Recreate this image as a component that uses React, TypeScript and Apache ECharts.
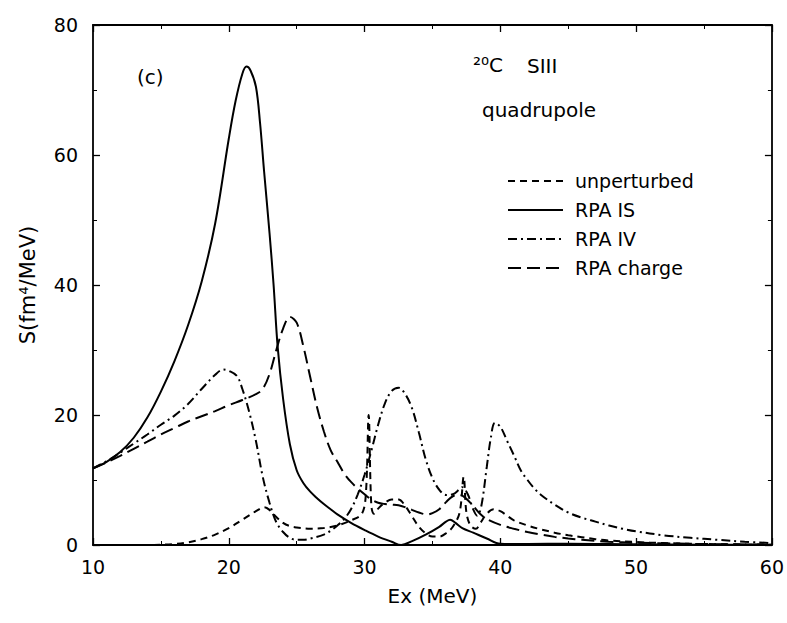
import React, { useEffect, useRef } from "react";
import * as echarts from "echarts";

// Series values: [Ex (MeV), S (fm^4/MeV)]
const unperturbed: [number, number][] = [
  [10, 0], [14, 0], [15, 0.05], [16, 0.15], [17, 0.4], [18, 0.9], [19, 1.6], [20, 2.6],
  [21, 3.9], [22, 5.2], [22.6, 5.8], [23, 5.4], [23.5, 4.3], [24, 3.4], [24.5, 2.9],
  [25, 2.7], [26, 2.5], [27, 2.6], [28, 3], [29, 3.8], [29.8, 4.8], [30.1, 8], [30.3, 20],
  [30.5, 6], [30.7, 4.8], [31, 5.6], [31.5, 6.5], [32, 7], [32.5, 7], [33, 6], [33.5, 4.4],
  [34, 2.8], [34.5, 1.8], [35, 1.3], [35.5, 1.3], [36, 1.8], [36.5, 2.8], [37, 5],
  [37.3, 10.5], [37.5, 5], [37.8, 3], [38.2, 2.5], [38.5, 3.3], [39, 4.8], [39.5, 5.5],
  [40, 5.2], [40.5, 4.5], [41, 3.8], [42, 3], [43, 2.4], [44, 1.9], [45, 1.5], [46, 1.2],
  [47, 0.9], [48, 0.7], [50, 0.45], [52, 0.3], [55, 0.15], [60, 0.05],
];

const rpaIS: [number, number][] = [
  [10, 11.8], [11, 12.8], [12, 14.3], [13, 16.5], [14, 19.6], [15, 23.6], [16, 28.3],
  [17, 33.8], [18, 40.5], [19, 49.5], [20, 62.5], [20.5, 68.3], [21, 72.5], [21.3, 73.6],
  [21.6, 73], [22, 70.5], [22.3, 65], [22.6, 57.5], [23, 48], [23.3, 40], [23.6, 30.5],
  [24, 22.5], [24.5, 15.5], [25, 11.5], [25.5, 9.5], [26, 8.2], [26.5, 7.2], [27, 6.3],
  [27.5, 5.5], [28, 4.7], [29, 3.4], [30, 2.3], [31, 1.3], [32, 0.5], [32.7, 0],
  [33.5, 0.6], [34.5, 1.6], [35.5, 2.8], [36, 3.6], [36.3, 3.9], [36.7, 3.4], [37.2, 2.6],
  [38, 1.9], [39, 1.0], [40, 0.2], [42, 0.15], [45, 0.2], [50, 0.1], [55, 0.05], [60, 0.02],
];

const rpaIV: [number, number][] = [
  [10, 11.8], [11, 12.9], [12, 14.2], [13, 15.6], [14, 17], [15, 18.5], [16, 19.9],
  [17, 21.7], [18, 24], [19, 26.2], [19.6, 27], [20, 26.8], [20.6, 26], [21, 24],
  [21.5, 20.5], [22, 16], [22.5, 10.5], [23, 6.5], [23.5, 3.5], [24, 2], [24.5, 1.1],
  [25, 0.8], [25.5, 0.8], [26, 1], [27, 1.6], [27.5, 2.2], [28, 3], [28.5, 4], [29, 5.5],
  [29.5, 7.8], [30, 10.8], [30.5, 14.5], [31, 18.5], [31.5, 21.8], [32, 23.7], [32.5, 24.2],
  [33, 23.2], [33.5, 21], [34, 17.3], [34.5, 13.2], [35, 10.3], [35.5, 8.5], [36, 7.7],
  [36.5, 7.8], [37, 8.6], [37.2, 8.9], [37.6, 7.8], [38, 5.5], [38.3, 4.5], [38.6, 6],
  [39, 12], [39.3, 16.5], [39.6, 18.8], [40, 18.2], [40.5, 16], [41, 13.8], [41.5, 11.5],
  [42, 10], [42.5, 8.7], [43, 7.7], [44, 6.2], [45, 5], [46, 4.2], [47, 3.6], [48, 3],
  [49, 2.5], [50, 2.1], [52, 1.5], [54, 1.1], [56, 0.8], [58, 0.5], [60, 0.3],
];

const rpaCharge: [number, number][] = [
  [10, 11.8], [11, 12.7], [12, 13.7], [13, 14.8], [14, 15.9], [15, 17], [16, 18],
  [17, 19], [18, 19.8], [19, 20.6], [20, 21.5], [21, 22.3], [22, 23.2], [22.5, 24],
  [23, 26.3], [23.5, 30], [24, 33.3], [24.5, 35.1], [25, 34.2], [25.5, 30.5], [26, 25.8],
  [26.5, 21.2], [27, 17.5], [27.5, 14.6], [28, 12.8], [28.5, 11], [29, 9.7], [29.5, 8.7],
  [30, 7.8], [30.5, 7], [31, 6.5], [31.5, 6.3], [32, 6.2], [32.5, 6.1], [33, 5.8],
  [33.5, 5.4], [34, 5], [34.6, 4.7], [35, 4.9], [35.5, 5.5], [36, 6.6], [36.5, 7.5],
  [37, 7.7], [37.5, 7.1], [38, 6], [38.5, 4.8], [39, 4], [40, 3.1], [41, 2.5], [42, 2],
  [43, 1.6], [44, 1.25], [45, 1], [46, 0.8], [48, 0.5], [50, 0.35], [55, 0.15], [60, 0.05],
];

const seriesNames = ["unperturbed", "RPA IS", "RPA IV", "RPA charge"];

const FONT = "DejaVu Sans";

export default function App() {
  const ref = useRef<HTMLDivElement>(null);

  useEffect(() => {
    if (!ref.current) return;
    const chart = echarts.init(ref.current, null, { renderer: "svg" });

    const baseLine = (name: string, data: [number, number][], type: any) => ({
      name,
      type: "line",
      data,
      xAxisIndex: 0,
      yAxisIndex: 0,
      symbol: "none",
      smooth: 0.35,
      itemStyle: { color: "#000", opacity: 0 },
      lineStyle: { color: "#000", width: 2, type },
      z: 3,
    });

    const xCommon = {
      type: "value",
      min: 10,
      max: 60,
      interval: 10,
      splitLine: { show: false },
      axisLine: { show: true, onZero: false, lineStyle: { color: "#000", width: 1.8 } },
      axisTick: { show: true, inside: true, length: 7, lineStyle: { color: "#000", width: 1.3 } },
      minorTick: { show: true, splitNumber: 2, length: 4, lineStyle: { color: "#000", width: 1 } },
    };
    const yCommon = {
      type: "value",
      min: 0,
      max: 80,
      interval: 20,
      splitLine: { show: false },
      axisLine: { show: true, onZero: false, lineStyle: { color: "#000", width: 1.8 } },
      axisTick: { show: true, inside: true, length: 7, lineStyle: { color: "#000", width: 1.3 } },
      minorTick: { show: true, splitNumber: 2, length: 4, lineStyle: { color: "#000", width: 1 } },
    };

    chart.setOption({
      animation: false,
      backgroundColor: "#fff",
      textStyle: { fontFamily: FONT },
      grid: { left: 93, top: 25, width: 680, height: 520, containLabel: false },
      legend: {
        data: seriesNames,
        orient: "vertical",
        left: 502,
        top: 166,
        itemWidth: 55,
        itemHeight: 14,
        itemGap: 9,
        itemStyle: { opacity: 0 },
        textStyle: { fontFamily: FONT, fontSize: 19, color: "#000", lineHeight: 20, padding: [0, 0, 0, 7] },
      },
      xAxis: [
        {
          ...xCommon,
          position: "bottom",
          name: "Ex (MeV)",
          nameLocation: "middle",
          nameGap: 41,
          nameTextStyle: { fontFamily: FONT, fontSize: 20, color: "#000" },
          axisLabel: { fontFamily: FONT, fontSize: 19, color: "#000", margin: 12 },
        },
        { ...xCommon, position: "top", axisLabel: { show: false } },
      ],
      yAxis: [
        {
          ...yCommon,
          position: "left",
          name: "S(fm⁴/MeV)",
          nameLocation: "middle",
          nameGap: 55,
          nameTextStyle: { fontFamily: FONT, fontSize: 21, color: "#000" },
          axisLabel: { fontFamily: FONT, fontSize: 19, color: "#000", margin: 15 },
        },
        { ...yCommon, position: "right", axisLabel: { show: false } },
      ],
      graphic: [
        { type: "text", left: 137, top: 67, style: { text: "(c)", font: `20px "${FONT}"`, fill: "#000" } },
        { type: "text", left: 473, top: 55, style: { text: "²⁰C", font: `20px "${FONT}"`, fill: "#000" } },
        { type: "text", left: 527, top: 56, style: { text: "SIII", font: `20px "${FONT}"`, fill: "#000" } },
        { type: "text", left: 482, top: 100, style: { text: "quadrupole", font: `20px "${FONT}"`, fill: "#000" } },
      ],
      series: [
        baseLine(seriesNames[0], unperturbed, [7, 5]),
        baseLine(seriesNames[1], rpaIS, "solid"),
        baseLine(seriesNames[2], rpaIV, [9, 4, 2, 4]),
        baseLine(seriesNames[3], rpaCharge, [13, 6]),
      ],
    });

    return () => chart.dispose();
  }, []);

  return (
    <div
      ref={ref}
      style={{ position: "absolute", left: 0, top: 0, width: 787, height: 623, background: "#fff" }}
    />
  );
}
